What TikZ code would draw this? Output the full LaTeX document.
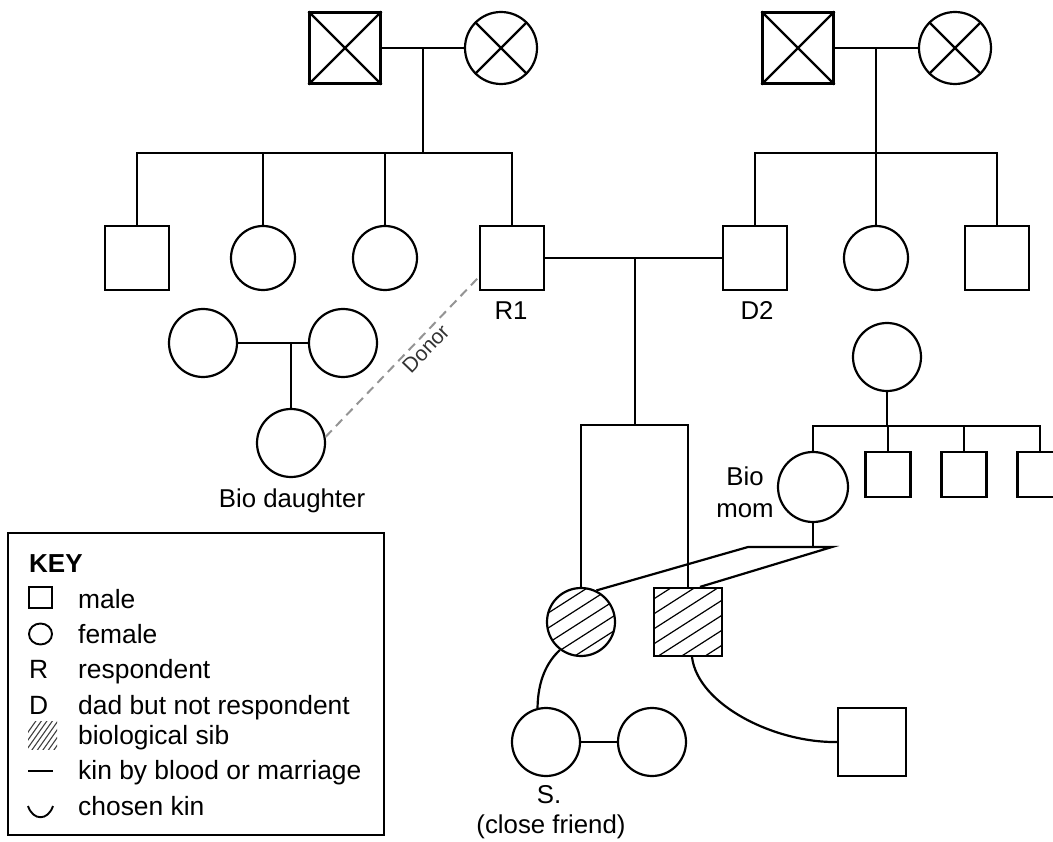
\documentclass[tikz,border=0pt]{standalone}
\usepackage{fontspec}
\setmainfont{Liberation Sans}
\usetikzlibrary{calc}
\begin{document}
\begin{tikzpicture}[x=1pt,y=-1pt,
  kin/.style={line width=2.2pt},
  male/.style={draw, rectangle, minimum size=#1, inner sep=0pt, line width=2.2pt},
  male/.default=64pt,
  female/.style={draw, circle, minimum size=#1, inner sep=0pt, line width=2.2pt},
  female/.default=64pt,
  hatched/.style={path picture={
      \foreach \k in {-6,...,6}
        \draw[line width=1.2pt] ($(path picture bounding box.center)+(-50pt,\k*15pt-32pt)$) -- ++(100pt,64pt);}},
  lbl/.style={font=\fontsize{25.8}{30}\selectfont, inner sep=0pt, anchor=base},
  keytext/.style={font=\fontsize{26.4}{30}\selectfont, inner sep=0pt, anchor=base west},
  donor/.style={draw=black!42, dash pattern=on 9pt off 6pt, line width=2pt},
  icon/.style={line width=1.9pt},
]
\useasboundingbox (0,0) rectangle (1053,842);

% ---------- paternal side of R1 ----------
\node[male=71pt] (gf1) at (345,48) {};
\node[female=72pt] (gm1) at (501,48) {};
\draw[kin] (gf1.north west) -- (gf1.south east) (gf1.north east) -- (gf1.south west);
\draw[kin] (gm1.45) -- (gm1.225) (gm1.135) -- (gm1.315);
\draw[kin] (gf1.east) -- (gm1.west);
\coordinate (m1) at (423,48);
\coordinate (sib1) at (423,153);
\draw[kin] (m1) -- (sib1);

\node[male] (u1) at (137,258) {};
\node[female] (a1) at (263,258) {};
\node[female] (a2) at (385,258) {};
\node[male] (r1) at (512,258) {};
\draw[kin] (u1.north) |- (sib1) -| (r1.north);
\draw[kin] (a1.north) -- (a1.north |- sib1);
\draw[kin] (a2.north) -- (a2.north |- sib1);
\node[lbl] (r1lbl) at (511,320) {R1};

% ---------- paternal side of D2 ----------
\node[male=71pt] (gf2) at (798,48) {};
\node[female=72pt] (gm2) at (955,48) {};
\draw[kin] (gf2.north west) -- (gf2.south east) (gf2.north east) -- (gf2.south west);
\draw[kin] (gm2.45) -- (gm2.225) (gm2.135) -- (gm2.315);
\draw[kin] (gf2.east) -- (gm2.west);
\coordinate (m2) at (876,48);
\coordinate (sib2) at (876,153);
\draw[kin] (m2) -- (sib2);

\node[male] (d2) at (755,258) {};
\node[female] (a3) at (876,258) {};
\node[male] (u2) at (997,258) {};
\draw[kin] (d2.north) |- (sib2) -| (u2.north);
\draw[kin] (a3.north) -- (a3.north |- sib2);
\node[lbl] (d2lbl) at (757,320) {D2};

% ---------- R1 and D2 with their children ----------
\draw[kin] (r1.east) -- (d2.west);
\coordinate (m3) at (635,258);
\coordinate (tw) at (635,425);
\draw[kin] (m3) -- (tw);
\node[female=68pt, hatched] (ts) at (581,622) {};
\node[male=68pt, hatched] (tb) at (688,622) {};
\draw[kin] (ts.north) |- (tw) -| (tb.north);

% ---------- donor family ----------
\node[female=68pt] (lm) at (203,343) {};
\node[female=68pt] (lw) at (343,343) {};
\draw[kin] (lm.east) -- (lw.west);
\coordinate (m4) at (291,343);
\node[female=68pt] (bd) at (291,443) {};
\draw[kin] (m4) -- (bd.north);
\node[lbl] (bdlbl) at (292,507) {Bio daughter};
\draw[donor] (bd.10) -- node[pos=0.6, sloped, below=3pt, inner sep=0pt,
  font=\fontsize{21}{24}\selectfont, text=black!80] (donorlbl) {Donor} ([yshift=-19pt]r1.west);

% ---------- biological mother's family ----------
\node[female=68pt] (bmp) at (887,357) {};
\coordinate (sib3) at (887,426);
\draw[kin] (bmp.south) -- (sib3);
\node[female=70pt] (bm) at (813,487) {};
\node[male=45pt] (bb1) at (888,474.5) {};
\node[male=45pt] (bb2) at (964,474.5) {};
\node[male=45pt] (bb3) at (1040,474.5) {};
\draw[kin] (bm.north) |- (sib3) -| (bb3.north);
\draw[kin] (bb1.north) -- (bb1.north |- sib3);
\draw[kin] (bb2.north) -- (bb2.north |- sib3);
\node[lbl] (biolbl) at (745,485) {Bio};
\node[lbl] (momlbl) at (745,517) {mom};

\coordinate (bl) at (813,547);
\coordinate (bl1) at (748,547);
\coordinate (bl2) at (832,547);
\draw[kin] (bm.south) -- (bl);
\draw[kin] (ts.64) -- (bl1) -- (bl2) -- ([xshift=12pt]tb.north);

% ---------- chosen kin ----------
\node[female=68pt] (sc) at (546,742) {};
\node[female=68pt] (fr) at (652,742) {};
\draw[kin] (sc.east) -- (fr.west);
\draw[kin] (ts.233) .. controls (547,662) and (538,680) .. (sc.104);
\node[male=68pt] (rp) at (872,742) {};
\draw[kin] ([xshift=4pt]tb.south) .. controls (698,705) and (775,743) .. (rp.west);
\node[lbl] (slbl) at (549,803) {S.};
\node[lbl] (cflbl) at (551,833) {(close friend)};

% ---------- key ----------
\draw[line width=2pt] (8,533) rectangle (384,835);
\node[keytext, font=\bfseries\fontsize{26}{30}\selectfont] (keyt) at (29,572) {KEY};
\draw[icon] (29,587) rectangle (52,608);
\node[keytext] (k1) at (78,608) {male};
\draw[icon] (40.5,634) ellipse [x radius=11.5pt, y radius=10.5pt];
\node[keytext] (k2) at (78,643) {female};
\node[keytext] (kr) at (29,678) {R};
\node[keytext] (k3) at (78,678) {respondent};
\node[keytext] (kd) at (29,714) {D};
\node[keytext] (k4) at (78,714) {dad but not respondent};
\begin{scope}
  \clip (28,721) rectangle (57,749);
  \foreach \k in {0,...,9}
    \draw[line width=1.1pt, black!75] (14+\k*5.5,752) -- (38+\k*5.5,718);
\end{scope}
\node[keytext] (k5) at (78,744) {biological sib};
\draw[icon] (28,771) -- (53,771);
\node[keytext] (k6) at (78,779) {kin by blood or marriage};
\draw[icon] (28,806) .. controls (33,821) and (48,821) .. (53,806);
\node[keytext] (k7) at (78,815) {chosen kin};
\end{tikzpicture}
\end{document}
